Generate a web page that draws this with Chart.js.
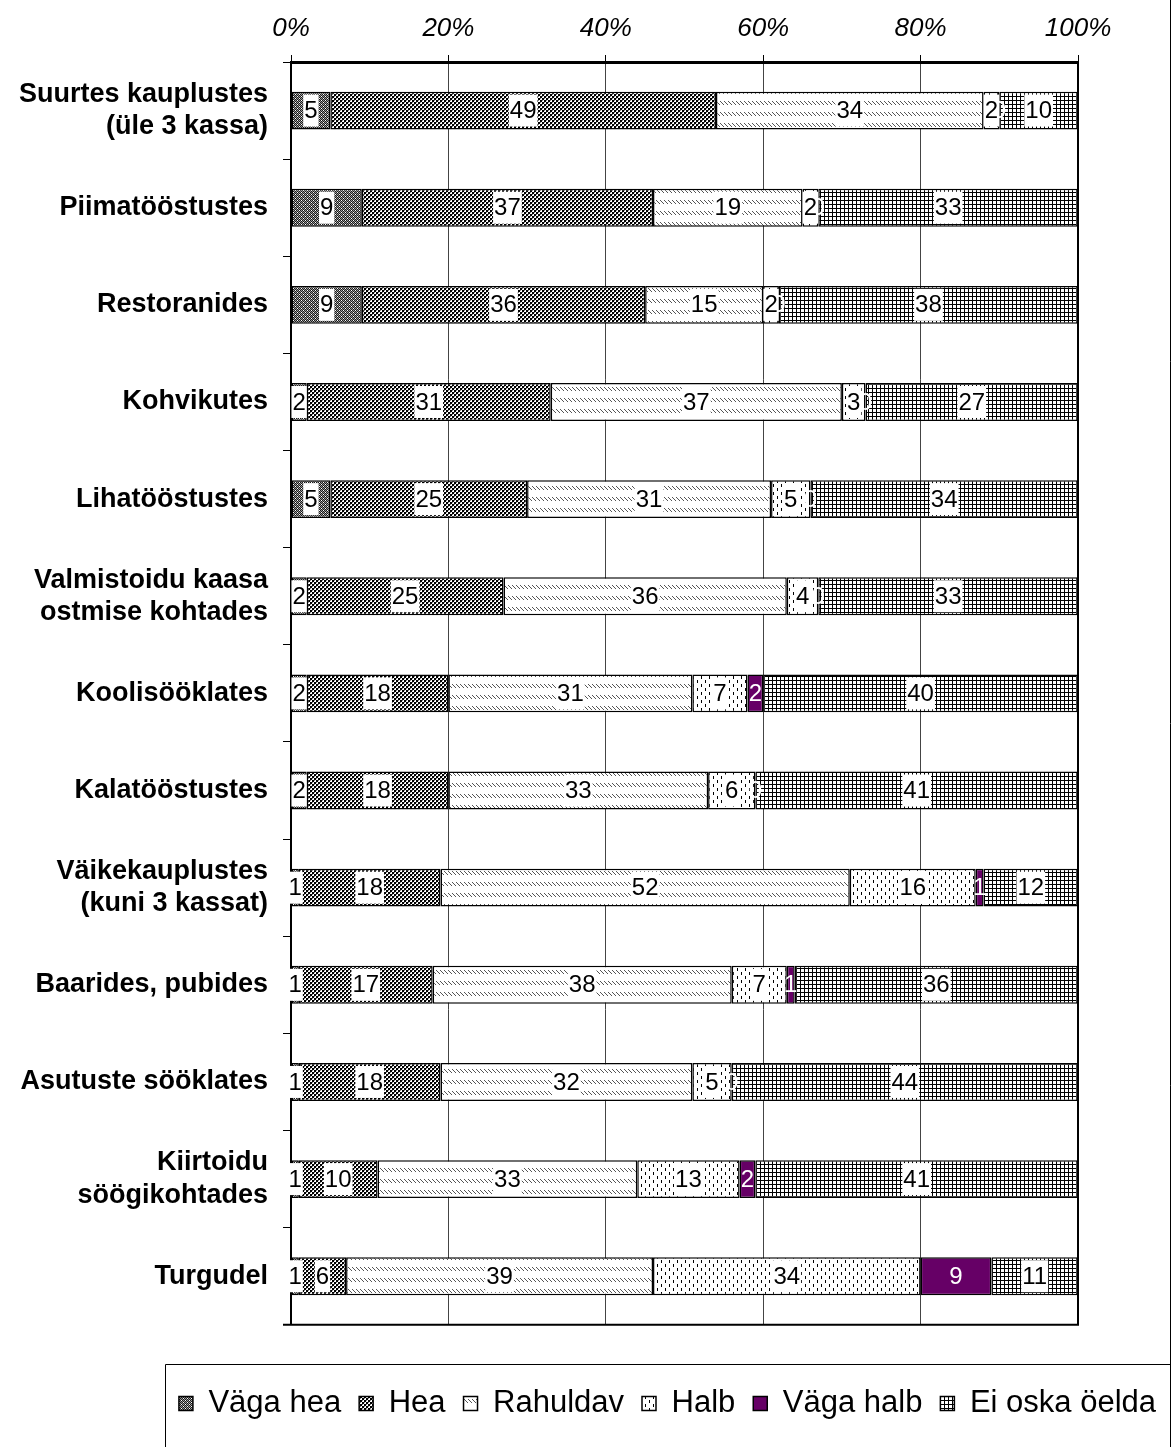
<!DOCTYPE html>
<html>
<head>
<meta charset="utf-8">
<script src="https://cdn.jsdelivr.net/npm/chart.js@4.4.1/dist/chart.umd.min.js"></script>
<style>
  html, body { margin: 0; padding: 0; background: #fff; }
  #wrap { width: 1174px; height: 1447px; }
</style>
</head>
<body>
<div id="wrap"><canvas id="chart" width="1174" height="1447"></canvas></div>
<script>
var categories = [
    ['Suurtes kauplustes', '(üle 3 kassa)'],
    'Piimatööstustes',
    'Restoranides',
    'Kohvikutes',
    'Lihatööstustes',
    ['Valmistoidu kaasa', 'ostmise kohtades'],
    'Koolisööklates',
    'Kalatööstustes',
    ['Väikekauplustes', '(kuni 3 kassat)'],
    'Baarides, pubides',
    'Asutuste sööklates',
    ['Kiirtoidu', 'söögikohtades'],
    'Turgudel'
];
var seriesNames = ['Väga hea', 'Hea', 'Rahuldav', 'Halb', 'Väga halb', 'Ei oska öelda'];

var vagaHea  = [5, 9, 9, 2, 5, 2, 2, 2, 1, 1, 1, 1, 1];
var hea      = [49, 37, 36, 31, 25, 25, 18, 18, 18, 17, 18, 10, 6];
var rahuldav = [34, 19, 15, 37, 31, 36, 31, 33, 52, 38, 32, 33, 39];
var halb     = [2, 2, 2, 3, 5, 4, 7, 6, 16, 7, 5, 13, 34];
var vagaHalb = [0, 0, 0, 0, 0, 0, 2, 0, 1, 1, 0, 2, 9];
var eiOska   = [10, 33, 38, 27, 34, 33, 40, 41, 12, 36, 44, 41, 11];

var xTicks = [0, 20, 40, 60, 80, 100];

var FONT = "'Liberation Sans', Arial, sans-serif";

// small bitmap tiles for the Excel-like fill patterns
function makePattern(w, h, draw) {
    var c = document.createElement('canvas');
    c.width = w; c.height = h;
    var g = c.getContext('2d');
    draw(g);
    return g.createPattern(c, 'repeat');
}
function px(g, col, pts) {
    g.fillStyle = col;
    pts.forEach(function (p) { g.fillRect(p[0], p[1], 1, 1); });
}

var patVagaHea = makePattern(4, 4, function (g) {
    g.fillStyle = '#1a1a1a'; g.fillRect(0, 0, 4, 4);
    px(g, '#ffffff', [[1, 0], [3, 2]]);
    px(g, '#9a9a9a', [[3, 0], [0, 1], [2, 1], [1, 2], [0, 3], [2, 3]]);
});
var patHea = makePattern(4, 4, function (g) {
    g.fillStyle = '#ffffff'; g.fillRect(0, 0, 4, 4);
    g.fillStyle = '#000000'; g.fillRect(0, 0, 2, 2); g.fillRect(2, 2, 2, 2);
    px(g, '#808080', [[2, 0], [0, 2]]);
});
var patRahuldav = makePattern(4, 11, function (g) {
    g.fillStyle = '#ffffff'; g.fillRect(0, 0, 4, 11);
    px(g, '#555555', [[0, 2], [1, 3], [2, 4], [3, 5]]);
});
var patHalb = makePattern(8, 8, function (g) {
    g.fillStyle = '#ffffff'; g.fillRect(0, 0, 8, 8);
    g.fillStyle = '#000000';
    g.fillRect(1, 0, 1, 3);
    g.fillRect(5, 4, 1, 3);
});
var patEiOska = makePattern(4, 4, function (g) {
    g.fillStyle = '#ffffff'; g.fillRect(0, 0, 4, 4);
    g.fillStyle = '#000000';
    g.fillRect(0, 0, 4, 1);
    g.fillRect(0, 0, 1, 4);
});
var PURPLE = '#660066';

var fills = [patVagaHea, patHea, patRahuldav, patHalb, PURPLE, patEiOska];
var values = [vagaHea, hea, rahuldav, halb, vagaHalb, eiOska];

var datasets = seriesNames.map(function (name, i) {
    return {
        label: name,
        data: values[i],
        backgroundColor: fills[i],
        borderColor: '#000',
        borderWidth: 1.5,
        borderSkipped: false,
        barPercentage: 0.39,
        categoryPercentage: 1
    };
});

// value labels: boxed white, Väga halb in white text on its own fill
var valueLabels = {
    id: 'valueLabels',
    afterDatasetsDraw: function (chart) {
        var ctx = chart.ctx;
        ctx.save();
        ctx.font = '24px ' + FONT;
        ctx.textAlign = 'center';
        ctx.textBaseline = 'middle';
        var order = [4, 0, 1, 2, 3, 5];
        order.forEach(function (di) {
            var meta = chart.getDatasetMeta(di);
            meta.data.forEach(function (el, j) {
                var v = chart.data.datasets[di].data[j];
                var cx = (el.x + el.base) / 2;
                var cy = el.y;
                var txt = String(v);
                if (di === 4) {
                    ctx.fillStyle = '#fff';
                    ctx.fillText(txt, cx, cy + 1);
                    return;
                }
                var w = ctx.measureText(txt).width + 2;
                ctx.fillStyle = '#fff';
                ctx.fillRect(cx - w / 2, cy - 16, w, 32);
                ctx.fillStyle = '#000';
                ctx.fillText(txt, cx, cy + 1);
            });
        });
        ctx.restore();
    }
};

// right/bottom plot frame and the outer frame pieces
var frames = {
    id: 'frames',
    beforeDatasetsDraw: function (chart) {
        var a = chart.chartArea, ctx = chart.ctx;
        ctx.save();
        ctx.strokeStyle = '#000';
        ctx.lineWidth = 2;
        ctx.beginPath();
        ctx.moveTo(a.right, a.top);
        ctx.lineTo(a.right, a.bottom);
        ctx.lineTo(a.left - 8, a.bottom);
        ctx.stroke();
        ctx.restore();
    },
    afterDraw: function (chart) {
        var ctx = chart.ctx;
        ctx.save();
        ctx.strokeStyle = '#000';
        ctx.lineWidth = 1;
        ctx.beginPath();
        ctx.moveTo(1170.5, 0);
        ctx.lineTo(1170.5, 1447);
        ctx.moveTo(165.5, 1447);
        ctx.lineTo(165.5, 1364.5);
        ctx.lineTo(1170.5, 1364.5);
        ctx.stroke();
        ctx.restore();
    }
};

new Chart(document.getElementById('chart').getContext('2d'), {
    type: 'bar',
    data: { labels: categories, datasets: datasets },
    options: {
        indexAxis: 'y',
        responsive: false,
        animation: false,
        layout: { padding: { left: 0, right: 0, top: 0, bottom: 18 } },
        scales: {
            x: {
                position: 'top',
                stacked: true,
                min: 0,
                max: 100,
                afterBuildTicks: function (s) { s.ticks = xTicks.map(function (v) { return { value: v }; }); },
                ticks: {
                    callback: function (v) { return v + '%'; },
                    color: '#000',
                    font: { family: FONT, size: 26, style: 'italic' },
                    padding: 11,
                    maxRotation: 0
                },
                grid: { color: '#444', lineWidth: 1, tickLength: 7, tickColor: '#000' },
                border: { color: '#000', width: 3 },
                afterFit: function (s) { s.height = 62; }
            },
            y: {
                stacked: true,
                ticks: {
                    color: '#000',
                    font: { family: FONT, size: 27, weight: 'bold' },
                    padding: 15
                },
                grid: { drawOnChartArea: false, tickLength: 8, color: '#000', offset: true },
                border: { color: '#000', width: 2 },
                afterFit: function (s) { s.width = 291; }
            },
            yRight: {
                position: 'right',
                display: true,
                ticks: { display: false },
                grid: { display: false },
                border: { display: false },
                afterFit: function (s) { s.width = 96; }
            }
        },
        plugins: {
            legend: {
                position: 'bottom',
                align: 'end',
                title: { display: true, text: ' ', font: { size: 1 }, padding: { top: 44, bottom: 0 } },
                labels: {
                    color: '#000',
                    font: { family: FONT, size: 31 },
                    boxWidth: 14,
                    boxHeight: 14,
                    padding: 18
                }
            },
            tooltip: { enabled: false }
        }
    },
    plugins: [frames, valueLabels]
});
</script>
</body>
</html>
